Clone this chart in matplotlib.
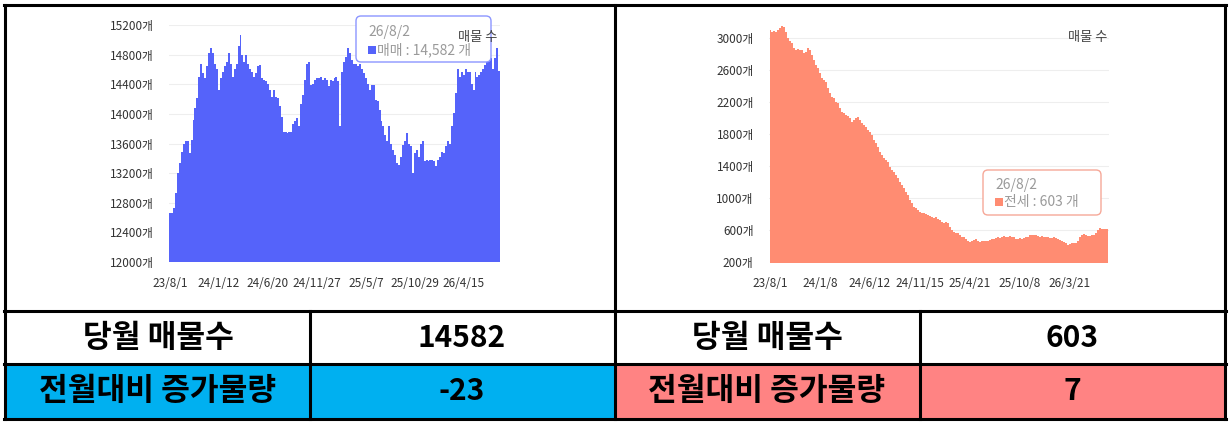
import matplotlib
matplotlib.use("Agg")
import matplotlib.pyplot as plt
from matplotlib.patches import Rectangle, FancyBboxPatch
import numpy as np

plt.rcParams['font.family'] = ['Noto Sans CJK KR', 'DejaVu Sans']

# 매매 매물 수 (left chart)
sale_vals = [12660, 12660, 12730, 12930, 13200, 13335, 13490, 13600, 13630, 13630,
             13470, 13650, 13920, 14080, 14210, 14500, 14680, 14550, 14480, 14640,
             14820, 14890, 14820, 14680, 14610, 14320, 14480, 14570, 14640, 14700,
             14820, 14680, 14500, 14610, 14680, 14910, 15060, 14800, 14700, 14800,
             14680, 14610, 14570, 14500, 14550, 14640, 14660, 14480, 14460, 14440,
             14410, 14320, 14230, 14320, 14230, 14210, 14100, 13960, 13760, 13760,
             13740, 13760, 13760, 13870, 13900, 13940, 13830, 14140, 14250, 14460,
             14680, 14700, 14390, 14410, 14460, 14480, 14480, 14500, 14460, 14480,
             14460, 14370, 14460, 14440, 14480, 14500, 14440, 13830, 14570, 14700,
             14770, 14890, 14820, 14730, 14680, 14680, 14640, 14680, 14610, 14550,
             14480, 14410, 14320, 14390, 14390, 14190, 14170, 14050, 13900, 13830,
             13720, 13630, 13830, 13600, 13510, 13450, 13335, 13310, 13420, 13580,
             13630, 13740, 13600, 13560, 13200, 13470, 13510, 13420, 13600, 13630,
             13360, 13380, 13360, 13380, 13380, 13360, 13290, 13380, 13420, 13490,
             13470, 13560, 13630, 13600, 13830, 14010, 14280, 14610, 14500, 14570,
             14520, 14600, 14570, 14570, 14410, 14320, 14570, 14500, 14520, 14570,
             14600, 14660, 14700, 14750, 14750, 14600, 14750, 14890, 14582]
sale_ticks = ["23/8/1", "24/1/12", "24/6/20", "24/11/27", "25/5/7", "25/10/29", "26/4/15"]
sale_yticks = [12000, 12400, 12800, 13200, 13600, 14000, 14400, 14800, 15200]

# 전세 매물 수 (right chart)
rent_vals = [3096, 3075, 3088, 3075, 3096, 3117, 3146, 3138, 3075, 2992,
             2963, 2930, 2867, 2846, 2854, 2846, 2846, 2804, 2825, 2867,
             2846, 2784, 2721, 2659, 2617, 2554, 2492, 2471, 2450, 2367,
             2304, 2263, 2242, 2200, 2179, 2117, 2075, 2054, 2034, 2021,
             1992, 1950, 1971, 1992, 2013, 1971, 1929, 1908, 1888, 1846,
             1825, 1783, 1721, 1679, 1638, 1575, 1533, 1492, 1471, 1450,
             1388, 1346, 1325, 1283, 1242, 1200, 1158, 1117, 1075, 1033,
             971, 929, 888, 867, 846, 825, 813, 804, 796, 783,
             771, 754, 742, 754, 729, 721, 700, 679, 700, 688,
             638, 596, 575, 563, 554, 533, 513, 504, 479, 463,
             446, 463, 471, 479, 463, 446, 454, 454, 463, 463,
             471, 479, 488, 496, 504, 496, 513, 521, 513, 504,
             521, 513, 504, 488, 479, 492, 488, 496, 504, 513,
             529, 533, 529, 529, 521, 513, 521, 513, 504, 504,
             496, 496, 504, 496, 479, 471, 454, 446, 429, 413,
             421, 429, 438, 438, 463, 504, 533, 546, 529, 521,
             521, 529, 538, 554, 596, 617, 604, 613, 604, 603]
rent_ticks = ["23/8/1", "24/1/8", "24/6/12", "24/11/15", "25/4/21", "25/10/8", "26/3/21"]
rent_yticks = [200, 600, 1000, 1400, 1800, 2200, 2600, 3000]

# table
row_labels = ["당월 매물수", "전월대비 증가물량"]
sale_table = ["14582", "-23"]
rent_table = ["603", "7"]
last_date = "26/8/2"

W, H = 1231, 426
fig = plt.figure(figsize=(W / 100, H / 100), dpi=100)


def rect(x0, y0, x1, y1):
    return [x0 / W, 1 - y1 / H, (x1 - x0) / W, (y1 - y0) / H]


def style(ax, ticks, yticks, step):
    ax.set_yticks(yticks)
    ax.set_yticklabels([f"{v}개" for v in yticks], fontsize=8.5, color="#333333")
    ax.set_xticks(np.arange(len(ticks)) * step)
    ax.set_xticklabels(ticks, fontsize=8.5, color="#333333")
    ax.tick_params(axis="y", length=0, pad=11)
    ax.tick_params(axis="x", length=0, pad=11)
    for s in ax.spines.values():
        s.set_visible(False)
    ax.grid(axis="y", color="#eeeeee", lw=0.8)
    ax.set_axisbelow(True)
    ax.patch.set_alpha(0)


ax1 = fig.add_axes(rect(169, 25, 500, 262))
x1 = np.arange(len(sale_vals))
ax1.bar(x1, sale_vals, width=1.0, color="#5563fa", lw=0)
ax1.set_xlim(-0.5, len(sale_vals) - 0.5)
ax1.set_ylim(12000, 15200)
style(ax1, sale_ticks, sale_yticks, 25)

ax2 = fig.add_axes(rect(769, 21.7, 1109, 261.7))
x2 = np.arange(len(rent_vals))
ax2.fill_between(x2, rent_vals, 0, step="mid", color="#ff8c72", lw=0)
ax2.set_xlim(-0.5, len(rent_vals) - 0.5)
ax2.set_ylim(200, 3200)
style(ax2, rent_ticks, rent_yticks, 25)

# overlay for table, borders, tooltips
ov = fig.add_axes([0, 0, 1, 1])
ov.set_xlim(0, W)
ov.set_ylim(H, 0)
ov.axis("off")
ov.patch.set_alpha(0)
ov.set_zorder(5)

ov.add_patch(Rectangle((5, 364), 610, 55, fc="#00b0f0", lw=0))
ov.add_patch(Rectangle((615, 364), 610, 55, fc="#ff8383", lw=0))

lw = 2.2
ov.plot([4, 1226], [5, 5], color="black", lw=lw)
ov.plot([4, 1226], [311, 311], color="black", lw=lw)
ov.plot([4, 1226], [364, 364], color="black", lw=lw)
ov.plot([4, 1226], [419, 419], color="black", lw=lw)
for xv in [5, 615, 1225]:
    ov.plot([xv, xv], [5, 419], color="black", lw=lw)
for xv in [310, 920]:
    ov.plot([xv, xv], [311, 419], color="black", lw=lw)

lab = dict(fontsize=22.5, fontweight="bold", ha="center", va="center", color="black")
num = dict(fontsize=21.5, fontweight="bold", ha="center", va="center", color="black")
for i, yc in enumerate([338, 391]):
    ov.text(158, yc, row_labels[i], **lab)
    ov.text(462, yc, sale_table[i], **num)
    ov.text(767, yc, row_labels[i], **lab)
    ov.text(1072, yc, rent_table[i], **num)

# tooltips
ov.add_patch(FancyBboxPatch((356, 16), 135, 46, boxstyle="round,pad=0,rounding_size=5",
                            fc="white", ec="#8c96ff", lw=1))
ov.text(368, 32, last_date, fontsize=10, color="#9a9a9a", va="center")
ov.add_patch(Rectangle((368, 46), 8, 8, fc="#5563fa", lw=0))
ov.text(377, 50, f"매매 : {int(sale_vals[-1]):,} 개", fontsize=10, color="#9a9a9a", va="center")
ov.text(497, 38, "매물 수", fontsize=9.5, color="#444444", ha="right", va="center")

ov.add_patch(FancyBboxPatch((983, 170), 118, 45, boxstyle="round,pad=0,rounding_size=5",
                            fc="white", ec="#f6a898", lw=1))
ov.text(995, 185, last_date, fontsize=10, color="#9a9a9a", va="center")
ov.add_patch(Rectangle((995, 198), 8, 8, fc="#ff8c72", lw=0))
ov.text(1004, 202, f"전세 : {int(rent_vals[-1]):,} 개", fontsize=10, color="#9a9a9a", va="center")
ov.text(1107, 37, "매물 수", fontsize=9.5, color="#444444", ha="right", va="center")

fig.savefig("out.png", dpi=100)
